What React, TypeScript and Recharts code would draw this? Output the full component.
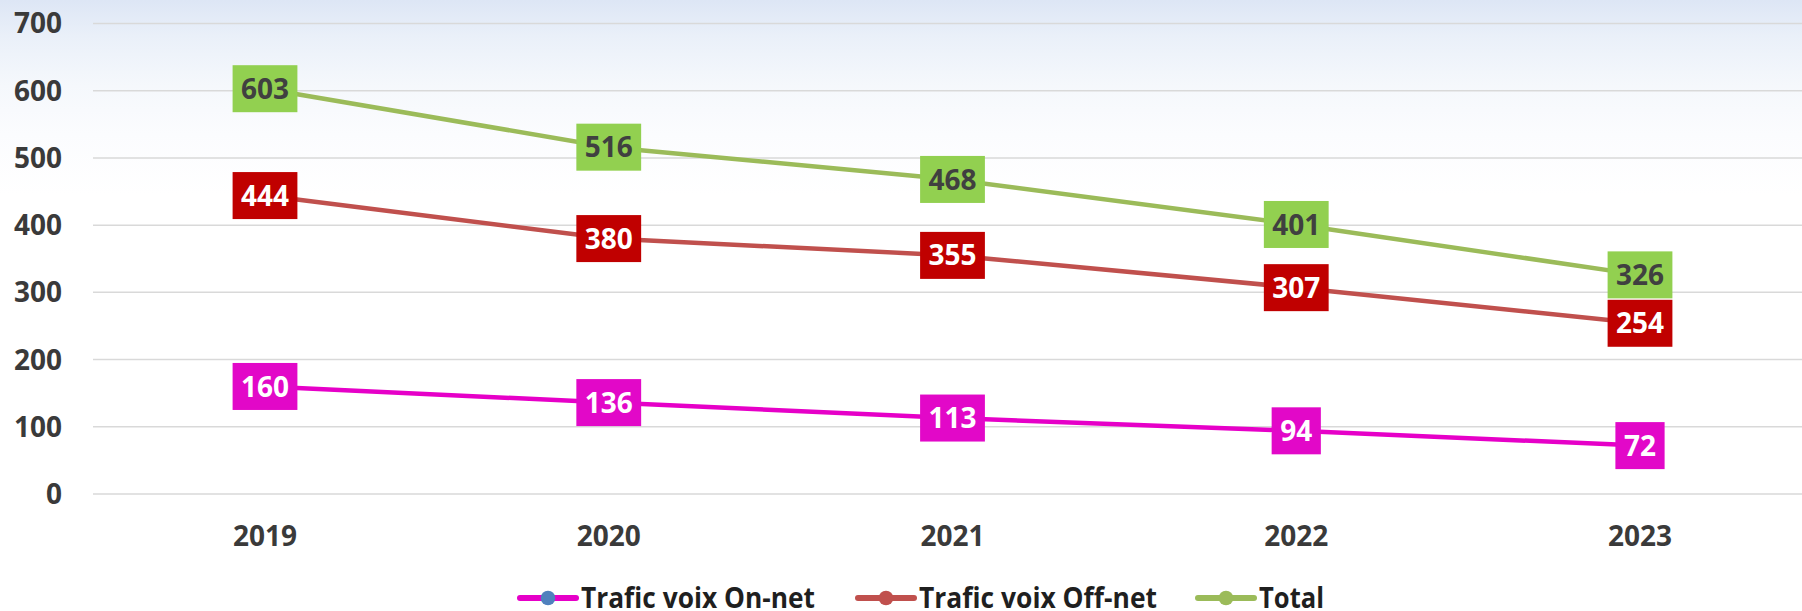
import React from 'react';
import { LineChart, Line, XAxis, YAxis, CartesianGrid, LabelList, Legend } from 'recharts';

const years = ['2019', '2020', '2021', '2022', '2023'];
const onNet = [160, 136, 113, 94, 72];
const offNet = [444, 380, 355, 307, 254];
const total = [603, 516, 468, 401, 326];
const yTicks = [0, 100, 200, 300, 400, 500, 600, 700];

const data = years.map((year, i) => ({
  year,
  onNet: onNet[i],
  offNet: offNet[i],
  total: total[i],
}));

const FONT = '"Open Sans", sans-serif';

// boxed value label centered on the point
const makeLabel = (fill: string, color: string) => (props: any) => {
  const { x, y, value } = props;
  const w = String(value).length * 15.6 + 18;
  const h = 47;
  return (
    <g>
      <rect x={x - w / 2} y={y - h / 2} width={w} height={h} fill={fill} />
      <text
        x={x}
        y={y}
        dy="0.36em"
        textAnchor="middle"
        fill={color}
        fontFamily={FONT}
        fontWeight={700}
        fontSize={28}
      >
        {value}
      </text>
    </g>
  );
};

const legendItems = [
  { name: 'Trafic voix On-net', line: '#E600C8', dot: '#4F81BD', x: 520, textLen: 234 },
  { name: 'Trafic voix Off-net', line: '#C0504D', dot: '#C0504D', x: 858, textLen: 238 },
  { name: 'Total', line: '#9BBB59', dot: '#9BBB59', x: 1198, textLen: 65 },
];

const renderLegend = () => (
  <svg width={1812} height={30} style={{ display: 'block' }}>
    {legendItems.map((it) => (
      <g key={it.name}>
        <line x1={it.x} x2={it.x + 56} y1={17} y2={17} stroke={it.line} strokeWidth={6} strokeLinecap="round" />
        <circle cx={it.x + 28} cy={17} r={7.3} fill={it.dot} />
        <text
          x={it.x + 61}
          y={26.5}
          textLength={it.textLen}
          lengthAdjust="spacingAndGlyphs"
          fontFamily={FONT}
          fontWeight={700}
          fontSize={28}
          fill="#1f1f1f"
        >
          {it.name}
        </text>
      </g>
    ))}
  </svg>
);

export default function App() {
  return (
    <div
      style={{
        position: 'absolute',
        left: 0,
        top: 0,
        width: 1802,
        height: 611,
        overflow: 'hidden',
        background:
          'linear-gradient(180deg, #dde6f5 0%, #eaf0f9 6%, #f5f8fc 14%, #fbfcfe 22%, #ffffff 32%)',
      }}
    >
      <LineChart
        width={1812}
        height={611}
        data={data}
        margin={{ top: 23.5, right: 0, bottom: 0, left: 0 }}
      >
        <CartesianGrid vertical={false} stroke="#d9d9d9" strokeWidth={1.5} />
        <XAxis
          dataKey="year"
          height={87}
          padding={{ left: 172, right: 172 }}
          axisLine={false}
          tickLine={false}
          tickSize={0}
          tickMargin={32}
          tick={{ fill: '#3a3a3a', fontFamily: FONT, fontWeight: 700, fontSize: 28 }}
        />
        <YAxis
          width={93}
          domain={[0, 700]}
          ticks={yTicks}
          axisLine={false}
          tickLine={false}
          tickSize={0}
          tickMargin={31}
          tick={{ fill: '#3a3a3a', fontFamily: FONT, fontWeight: 700, fontSize: 28 }}
        />
        <Legend verticalAlign="bottom" height={30} content={renderLegend} />
        <Line dataKey="onNet" name="Trafic voix On-net" stroke="#E600C8" strokeWidth={4.5} dot={false} isAnimationActive={false}>
          <LabelList dataKey="onNet" content={makeLabel('#E208C8', '#ffffff')} />
        </Line>
        <Line dataKey="offNet" name="Trafic voix Off-net" stroke="#C0504D" strokeWidth={4.5} dot={false} isAnimationActive={false}>
          <LabelList dataKey="offNet" content={makeLabel('#C00000', '#ffffff')} />
        </Line>
        <Line dataKey="total" name="Total" stroke="#9BBB59" strokeWidth={4.5} dot={false} isAnimationActive={false}>
          <LabelList dataKey="total" content={makeLabel('#92D050', '#404040')} />
        </Line>
      </LineChart>
    </div>
  );
}
